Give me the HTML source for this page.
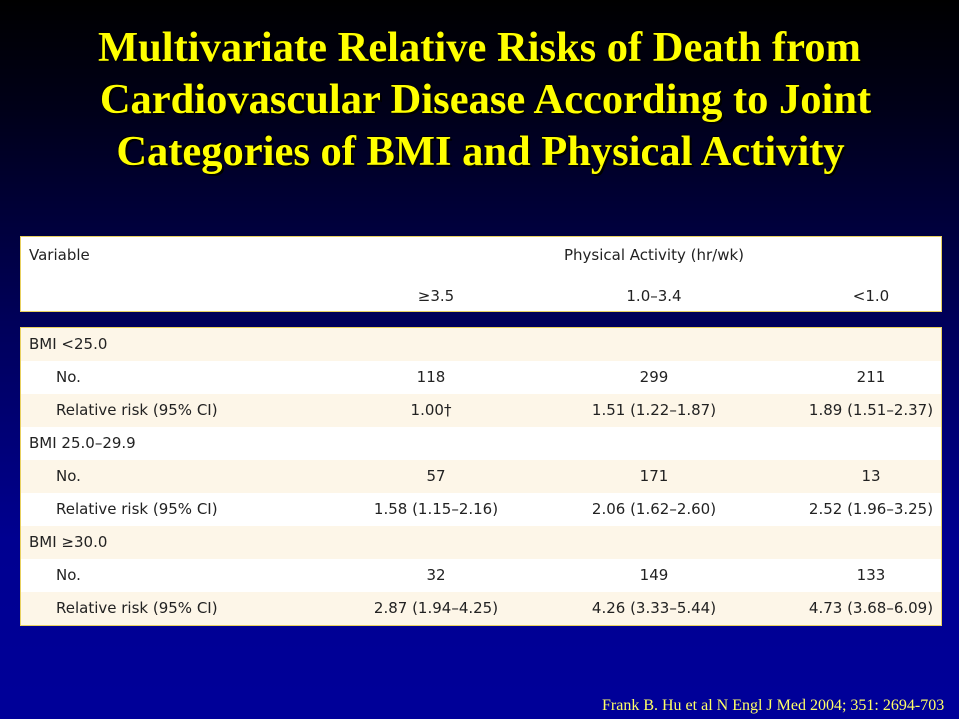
<!DOCTYPE html>
<html><head><meta charset="utf-8"><style>
body{margin:0;width:959px;height:719px;overflow:hidden;background:linear-gradient(#000 0%,#000018 15%,#00005a 45%,#000090 75%,#000099 100%);position:relative;font-family:"DejaVu Sans","Liberation Sans",sans-serif;}
.t{position:absolute;left:0;width:959px;text-align:center;font-family:"Liberation Serif",serif;font-weight:bold;font-size:42.5px;color:#ffff00;text-shadow:2px 2px 0 #000,-1px -1px 0 #000;line-height:44px;}
.box{position:absolute;left:20px;width:920px;border:1px solid #e8d060;}
.r{position:absolute;left:0;width:920px;height:33px;}
.c{position:absolute;font-size:15px;color:#222;line-height:33px;white-space:nowrap;}
.n{width:220px;text-align:center;}
</style></head><body>
<div class="t" style="top:26px;left:0px">Multivariate Relative Risks of Death from</div>
<div class="t" style="top:78px;left:6px">Cardiovascular Disease According to Joint</div>
<div class="t" style="top:130px;left:1px">Categories of BMI and Physical Activity</div>

<div class="box" style="top:236px;height:74px;background:#fff;">
<div class="c" style="left:8px;top:2px">Variable</div>
<div class="c n" style="left:523px;top:2px;width:220px">Physical Activity (hr/wk)</div>
<div class="c n" style="left:305px;top:43px">≥3.5</div>
<div class="c n" style="left:523px;top:43px">1.0–3.4</div>
<div class="c n" style="left:740px;top:43px">&lt;1.0</div>
</div>

<div class="box" style="top:327px;height:297px;background:#fff;">
<div class="r" style="top:0;background:#fdf6e8"><div class="c" style="left:8px">BMI &lt;25.0</div></div>
<div class="r" style="top:33px;background:#fff"><div class="c" style="left:35px">No.</div><div class="c n" style="left:300px">118</div><div class="c n" style="left:523px">299</div><div class="c n" style="left:740px">211</div></div>
<div class="r" style="top:66px;background:#fdf6e8"><div class="c" style="left:35px">Relative risk (95% CI)</div><div class="c n" style="left:300px">1.00†</div><div class="c n" style="left:523px">1.51 (1.22–1.87)</div><div class="c n" style="left:740px">1.89 (1.51–2.37)</div></div>
<div class="r" style="top:99px;background:#fff"><div class="c" style="left:8px">BMI 25.0–29.9</div></div>
<div class="r" style="top:132px;background:#fdf6e8"><div class="c" style="left:35px">No.</div><div class="c n" style="left:305px">57</div><div class="c n" style="left:523px">171</div><div class="c n" style="left:740px">13</div></div>
<div class="r" style="top:165px;background:#fff"><div class="c" style="left:35px">Relative risk (95% CI)</div><div class="c n" style="left:305px">1.58 (1.15–2.16)</div><div class="c n" style="left:523px">2.06 (1.62–2.60)</div><div class="c n" style="left:740px">2.52 (1.96–3.25)</div></div>
<div class="r" style="top:198px;background:#fdf6e8"><div class="c" style="left:8px">BMI ≥30.0</div></div>
<div class="r" style="top:231px;background:#fff"><div class="c" style="left:35px">No.</div><div class="c n" style="left:305px">32</div><div class="c n" style="left:523px">149</div><div class="c n" style="left:740px">133</div></div>
<div class="r" style="top:264px;background:#fdf6e8"><div class="c" style="left:35px">Relative risk (95% CI)</div><div class="c n" style="left:305px">2.87 (1.94–4.25)</div><div class="c n" style="left:523px">4.26 (3.33–5.44)</div><div class="c n" style="left:740px">4.73 (3.68–6.09)</div></div>
</div>

<div style="position:absolute;left:602px;top:697px;font-family:'Liberation Serif',serif;font-size:16px;color:#ffff66;white-space:nowrap">Frank B. Hu et al N Engl J Med 2004; 351: 2694-703</div>
</body></html>
